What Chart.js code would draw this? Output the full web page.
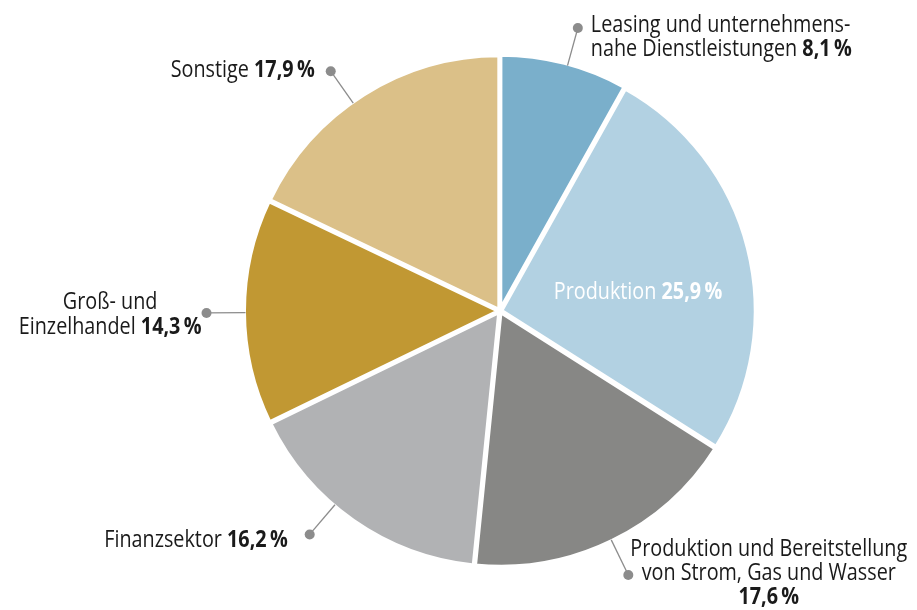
<!DOCTYPE html>
<html><head><meta charset="utf-8">
<script src="https://cdn.jsdelivr.net/npm/chart.js@4"></script>
<style>html,body{margin:0;padding:0;background:#fff}#c{display:block}</style>
</head><body>
<canvas id="c" width="917" height="610"></canvas>
<script>
const categories = ["Leasing und unternehmensnahe Dienstleistungen", "Produktion", "Produktion und Bereitstellung von Strom, Gas und Wasser", "Finanzsektor", "Groß- und Einzelhandel", "Sonstige"];
const shares = [8.1, 25.9, 17.6, 16.2, 14.3, 17.9];
const sliceColors = ["#7aafcb", "#b2d1e2", "#878785", "#b1b2b4", "#c19833", "#dbc088"];
const nameLines = [
  ["Leasing und unternehmens-", "nahe Dienstleistungen"],
  ["Produktion"],
  ["Produktion und Bereitstellung", "von Strom, Gas und Wasser", ""],
  ["Finanzsektor"],
  ["Groß- und", "Einzelhandel"],
  ["Sonstige"]
];

const FONT = '"Open Sans", "Noto Sans", sans-serif';
const FS = 23;
const SX = 0.86; // horizontal condensing of text
// layout of labels (relative to the leader-line dot)
const labelLayout = [
  {type:'left', dAng:0.8, dx:13, dy:-3, lh:24},
  {type:'inside', dx:138, dy:-19},
  {type:'blockLeft', dAng:0, dx:2, dy:-26, lh:24},
  {type:'right', dAng:5.5, dx:-22, dy:6, lh:24},
  {type:'blockRight', dAng:-0.2, dx:-5, dy:-10, lh:25},
  {type:'right', dAng:-3, dx:-16, dy:-1, lh:24}
];

function pct(v){ return v.toFixed(1).replace('.', ',') + '\u2009%'; }

function lineSegs(i){
  const ln = nameLines[i];
  return ln.map((t, k) => {
    if (k === ln.length - 1) {
      return t ? [{t: t + ' ', b:false}, {t: pct(shares[i]), b:true}] : [{t: pct(shares[i]), b:true}];
    }
    return [{t, b:false}];
  });
}
function setFont(ctx, b){ ctx.font = (b ? 'bold ' : '') + FS + 'px ' + FONT; }
function segWidth(ctx, segs){
  let w = 0;
  for (const s of segs){ setFont(ctx, s.b); w += ctx.measureText(s.t).width * SX; }
  return w;
}
function drawSegs(ctx, segs, x, y){
  for (const s of segs){
    setFont(ctx, s.b);
    ctx.save(); ctx.translate(x, y); ctx.scale(SX, 1); ctx.fillText(s.t, 0, 0); ctx.restore();
    x += ctx.measureText(s.t).width * SX;
  }
}

const labelPlugin = {
  id: 'pieLabels',
  afterDraw(chart){
    const ctx = chart.ctx;
    const meta = chart.getDatasetMeta(0);
    ctx.save();
    ctx.textBaseline = 'middle';
    ctx.textAlign = 'left';
    meta.data.forEach((arc, i) => {
      const p = arc.getProps(['x','y','startAngle','endAngle','outerRadius'], true);
      const L = labelLayout[i];
      const segs = lineSegs(i);
      if (L.type === 'inside'){
        ctx.fillStyle = '#ffffff';
        const w = segWidth(ctx, segs[0]);
        drawSegs(ctx, segs[0], p.x + L.dx - w/2, p.y + L.dy);
        return;
      }
      const ang = (p.startAngle + p.endAngle)/2 + L.dAng*Math.PI/180;
      const r0 = p.outerRadius, r1 = p.outerRadius + 39;
      const sx = p.x + Math.cos(ang)*r0, sy = p.y + Math.sin(ang)*r0;
      const dx = p.x + Math.cos(ang)*r1, dy = p.y + Math.sin(ang)*r1;
      ctx.strokeStyle = '#8c8c8c'; ctx.lineWidth = 1.3;
      ctx.beginPath(); ctx.moveTo(sx, sy); ctx.lineTo(dx, dy); ctx.stroke();
      ctx.fillStyle = '#8c8c8c';
      ctx.beginPath(); ctx.arc(dx, dy, 5, 0, Math.PI*2); ctx.fill();
      ctx.fillStyle = '#1a1a1a';
      const widths = segs.map(s => segWidth(ctx, s));
      const bw = Math.max(...widths);
      segs.forEach((s, k) => {
        const y = dy + L.dy + k*L.lh;
        let x;
        if (L.type === 'left') x = dx + L.dx;
        else if (L.type === 'right') x = dx + L.dx - widths[k];
        else if (L.type === 'blockLeft') x = dx + L.dx + (bw - widths[k])/2;
        else x = dx + L.dx - bw + (bw - widths[k])/2;
        drawSegs(ctx, s, x, y);
      });
    });
    ctx.restore();
  }
};

new Chart(document.getElementById('c'), {
  type: 'pie',
  data: {
    labels: categories,
    datasets: [{
      data: shares,
      backgroundColor: sliceColors,
      borderColor: '#ffffff',
      borderWidth: 4,
      hoverBorderWidth: 4,
      offset: 5,
      hoverOffset: 5
    }]
  },
  options: {
    responsive: false,
    animation: false,
    events: [],
    layout: { padding: { left: 241, right: 158, top: 52, bottom: 40 } },
    plugins: { legend: { display: false }, tooltip: { enabled: false } }
  },
  plugins: [labelPlugin]
});
</script>
</body></html>
